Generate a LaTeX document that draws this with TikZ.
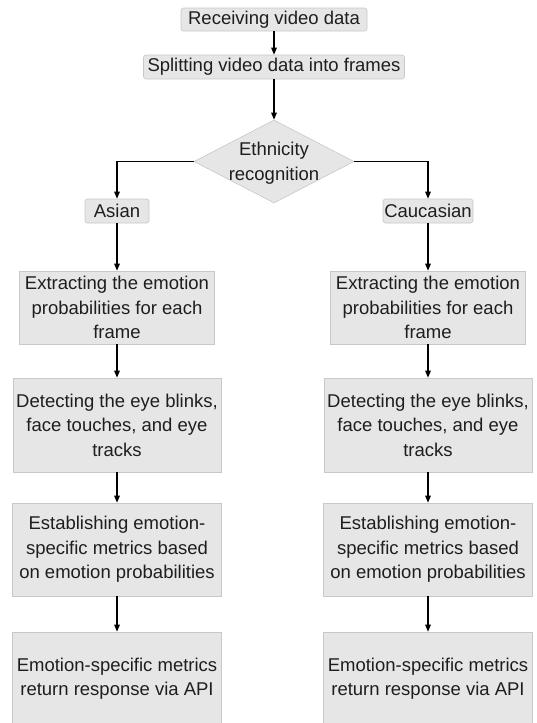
\documentclass[tikz,border=0pt]{standalone}
\usepackage{fontspec}
\setmainfont{Liberation Sans}
\usetikzlibrary{shapes.geometric,arrows.meta}
\definecolor{boxfill}{HTML}{E6E6E6}
\definecolor{boxline}{HTML}{C8C8C8}
\definecolor{txt}{HTML}{1E1E1E}
\tikzset{
  box/.style={draw=boxline, fill=boxfill, line width=0.6pt, align=center, inner sep=0pt,
    text=txt, font=\fontsize{18.5pt}{24.5pt}\selectfont},
  smallbox/.style={box, rounded corners=2.5pt},
  dia/.style={diamond, draw=boxline, fill=boxfill, line width=0.6pt, inner sep=0pt},
  conn/.style={line width=1.3pt, -{Triangle[length=7pt,width=5.5pt]}},
}
\begin{document}
\begin{tikzpicture}[x=1pt,y=-1pt]
\useasboundingbox (0,0) rectangle (536,723);
\fill[white] (0,0) rectangle (536,723);
% top
\node[smallbox, minimum width=186pt, minimum height=23pt] (recv) at (274,19.5) {Receiving video data};
\node[smallbox, minimum width=261pt, minimum height=24pt] (split) at (274,67) {Splitting video data into frames};
\node[dia, minimum width=160pt, minimum height=83pt] (eth) at (274,161.5) {};
\node[align=center, inner sep=0pt, text=txt, font=\fontsize{18.5pt}{24.5pt}\selectfont] (ethtxt) at (274,163) {Ethnicity\\recognition};
\node[smallbox, minimum width=64pt, minimum height=24pt] (asian) at (117,211) {Asian};
\node[smallbox, minimum width=90pt, minimum height=24pt] (cauc) at (428,211) {Caucasian};
% left column
\node[box, minimum width=195pt, minimum height=73pt] (extL) at (117,307.5) {Extracting the emotion\\probabilities for each\\frame};
\node[box, minimum width=208pt, minimum height=94pt] (detL) at (117,425) {Detecting the eye blinks,\\face touches, and eye\\tracks};
\node[box, minimum width=209pt, minimum height=93pt] (estL) at (117,549.5) {Establishing emotion-\\specific metrics based\\on emotion probabilities};
\node[box, minimum width=209pt, minimum height=93pt] (emoL) at (117,678.5) {Emotion-specific metrics\\return response via API};
% right column
\node[box, minimum width=195pt, minimum height=73pt] (extR) at (428,307.5) {Extracting the emotion\\probabilities for each\\frame};
\node[box, minimum width=208pt, minimum height=94pt] (detR) at (428,425) {Detecting the eye blinks,\\face touches, and eye\\tracks};
\node[box, minimum width=209pt, minimum height=93pt] (estR) at (428,549.5) {Establishing emotion-\\specific metrics based\\on emotion probabilities};
\node[box, minimum width=209pt, minimum height=93pt] (emoR) at (428,678.5) {Emotion-specific metrics\\return response via API};
% connectors
\draw[conn] (recv) -- (split);
\draw[conn] (split) -- (eth);
\draw[conn] (eth.west) -| (asian.north);
\draw[conn] (eth.east) -| (cauc.north);
\draw[conn] (asian) -- (extL);
\draw[conn] (extL) -- (detL);
\draw[conn] (detL) -- (estL);
\draw[conn] (estL) -- (emoL);
\draw[conn] (cauc) -- (extR);
\draw[conn] (extR) -- (detR);
\draw[conn] (detR) -- (estR);
\draw[conn] (estR) -- (emoR);
\end{tikzpicture}
\end{document}
